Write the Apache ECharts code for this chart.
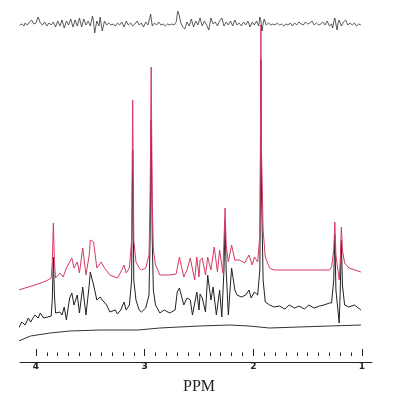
<!DOCTYPE html>
<html><head><meta charset="utf-8">
<script src="https://cdn.jsdelivr.net/npm/echarts@6/dist/echarts.min.js"></script>
<style>html,body{margin:0;padding:0;background:#fff}#c{width:393px;height:400px}</style>
</head><body><div id="c"></div>
<script>
// Axis ticks
var tickValues = [1, 2, 3, 4];
var axisName = 'PPM';

// Top trace: difference / noise spectrum [ppm, intensity]
var noiseTrace = [
[4.15,337],[4.13,338],[4.11,336],[4.10,339],[4.08,337],[4.06,340],[4.04,342],[4.02,338],[4.00,339],[3.98,345],
[3.96,339],[3.94,337],[3.92,340],[3.90,336],[3.88,339],[3.86,337],[3.84,340],[3.82,335],[3.80,341],[3.78,336],
[3.76,342],[3.74,334],[3.72,341],[3.70,337],[3.68,343],[3.66,335],[3.64,342],[3.62,336],[3.60,344],[3.58,335],
[3.56,343],[3.54,337],[3.52,341],[3.50,336],[3.48,346],[3.47,340],[3.46,329],[3.44,341],[3.42,336],[3.41,345],
[3.40,338],[3.39,331],[3.37,341],[3.35,337],[3.33,339],[3.31,337],[3.29,338],[3.27,336],[3.25,339],[3.23,337],
[3.21,340],[3.19,335],[3.17,341],[3.15,337],[3.13,339],[3.11,336],[3.09,338],[3.07,341],[3.05,337],[3.03,339],
[3.01,335],[2.99,340],[2.97,337],[2.955,343],[2.945,348],[2.93,336],[2.91,339],[2.89,337],[2.87,340],[2.85,337],
[2.83,338],[2.81,336],[2.79,338],[2.77,337],[2.75,338],[2.73,337],[2.71,340],[2.695,351],[2.68,346],[2.67,340],
[2.65,335],[2.63,333],[2.61,340],[2.59,336],[2.57,343],[2.55,335],[2.53,341],[2.51,337],[2.49,344],[2.47,336],
[2.45,341],[2.43,337],[2.41,332],[2.39,344],[2.37,338],[2.35,340],[2.33,336],[2.31,341],[2.29,344],[2.27,336],
[2.25,340],[2.23,337],[2.21,341],[2.19,336],[2.17,342],[2.15,337],[2.13,339],[2.11,336],[2.09,340],[2.07,337],
[2.05,341],[2.03,335],[2.01,340],[1.99,337],[1.97,341],[1.95,336],[1.94,345],[1.93,341],[1.92,331],[1.91,338],
[1.90,343],[1.88,337],[1.86,339],[1.84,337],[1.82,338],[1.80,337],[1.78,339],[1.76,337],[1.74,338],[1.72,336],
[1.70,338],[1.68,337],[1.66,339],[1.64,336],[1.62,339],[1.60,337],[1.58,340],[1.56,338],[1.54,337],[1.52,340],
[1.50,338],[1.48,339],[1.46,341],[1.44,337],[1.42,339],[1.40,337],[1.38,338],[1.36,340],[1.34,337],[1.32,341],
[1.30,336],[1.28,338],[1.27,334],[1.26,340],[1.25,344],[1.24,338],[1.23,332],[1.22,339],[1.21,342],[1.19,336],
[1.17,340],[1.15,342],[1.13,337],[1.11,339],[1.09,337],[1.07,339],[1.05,336],[1.03,338],[1.01,337]
];

// Red spectrum [ppm, intensity]
var redTrace = [
[4.16,72],[4.10,74],[4.01,77],[3.93,80],[3.89,82],[3.86,84],[3.85,100],[3.84,139],[3.83,100],[3.82,84],
[3.78,89],[3.75,85],[3.72,94],[3.69,100],[3.67,104],[3.65,94],[3.62,100],[3.60,89],[3.57,114],[3.54,87],
[3.51,107],[3.50,122],[3.47,120],[3.44,94],[3.40,100],[3.37,94],[3.32,87],[3.25,84],[3.22,90],[3.19,97],
[3.17,89],[3.14,94],[3.12,122],[3.11,262],[3.10,122],[3.08,100],[3.05,94],[3.03,92],[2.99,94],[2.96,107],
[2.95,162],[2.94,295],[2.93,162],[2.92,112],[2.90,97],[2.86,87],[2.77,87],[2.71,88],[2.68,105],[2.64,85],
[2.61,92],[2.58,104],[2.54,82],[2.52,105],[2.50,85],[2.49,102],[2.47,104],[2.44,87],[2.42,105],[2.39,92],
[2.36,115],[2.33,90],[2.31,112],[2.28,89],[2.27,122],[2.26,154],[2.25,117],[2.23,100],[2.20,117],[2.17,102],
[2.13,102],[2.08,99],[2.04,107],[2.01,97],[1.99,105],[1.96,100],[1.94,127],[1.935,212],[1.93,337],[1.925,212],
[1.91,132],[1.89,105],[1.85,94],[1.81,92],[1.58,92],[1.30,92],[1.28,95],[1.26,112],[1.25,140],[1.24,107],
[1.21,82],[1.20,102],[1.19,135],[1.18,112],[1.16,99],[1.12,94],[1.01,90]
];

// Black spectrum [ppm, intensity]
var blackTrace = [
[4.16,34],[4.13,40],[4.10,37],[4.07,44],[4.05,40],[4.01,47],[3.98,44],[3.96,49],[3.93,44],[3.89,45],
[3.86,46],[3.85,62],[3.84,105],[3.83,67],[3.82,49],[3.78,50],[3.76,47],[3.74,55],[3.72,42],[3.69,64],
[3.67,69],[3.65,57],[3.62,67],[3.60,49],[3.57,75],[3.54,47],[3.51,77],[3.50,90],[3.47,77],[3.44,62],
[3.41,65],[3.39,62],[3.35,57],[3.32,50],[3.27,52],[3.25,48],[3.22,52],[3.19,60],[3.17,52],[3.14,57],
[3.12,82],[3.11,212],[3.10,82],[3.08,62],[3.05,52],[3.03,50],[2.99,54],[2.96,67],[2.95,122],[2.94,242],
[2.93,122],[2.92,72],[2.90,57],[2.86,49],[2.82,52],[2.77,49],[2.72,52],[2.70,70],[2.68,74],[2.64,57],
[2.61,64],[2.58,62],[2.56,47],[2.52,70],[2.50,52],[2.49,68],[2.47,64],[2.44,50],[2.42,87],[2.39,62],
[2.37,75],[2.34,47],[2.31,72],[2.29,45],[2.27,92],[2.26,140],[2.25,92],[2.23,47],[2.20,94],[2.17,72],
[2.15,67],[2.11,65],[2.07,67],[2.04,72],[2.02,64],[1.99,70],[1.96,67],[1.94,92],[1.935,172],[1.93,302],
[1.925,172],[1.91,82],[1.89,60],[1.85,57],[1.81,55],[1.76,56],[1.71,53],[1.67,57],[1.62,54],[1.58,56],
[1.53,53],[1.49,57],[1.44,54],[1.39,56],[1.35,57],[1.30,59],[1.28,59],[1.26,82],[1.25,127],[1.24,72],
[1.21,39],[1.20,72],[1.19,122],[1.18,77],[1.16,57],[1.12,55],[1.07,57],[1.01,52]
];

// Bottom baseline trace [ppm, intensity]
var baseTrace = [
[4.16,21],[4.05,26],[3.87,29],[3.69,31],[3.41,32],[3.06,32],[2.86,34],[2.50,36],[2.22,37],[2.04,36],
[1.85,34],[1.58,35],[1.30,36],[1.01,37]
];

var chart = echarts.init(document.getElementById('c'), null, {renderer: 'canvas'});
function line(data, color, width, z) {
  return {type: 'line', data: data, xAxisIndex: 0, yAxisIndex: 0, showSymbol: false, symbol: 'none',
    lineStyle: {color: color, width: width}, z: z, animation: false, silent: true};
}
chart.setOption({
  animation: false,
  backgroundColor: '#fff',
  grid: [
    {left: 20, right: 21, top: 0, bottom: 38},
    {left: 36, right: 31, top: 0, bottom: 38}
  ],
  xAxis: [
    {type: 'value', gridIndex: 0, inverse: true, min: 0.908, max: 4.147,
     axisLine: {show: true, lineStyle: {color: '#222', width: 1}},
     axisTick: {show: false}, axisLabel: {show: false}, splitLine: {show: false}},
    {type: 'value', gridIndex: 1, inverse: true, min: tickValues[0], max: tickValues[tickValues.length - 1], interval: 1,
     axisLine: {show: false},
     axisTick: {show: true, inside: true, length: 7, lineStyle: {color: '#222', width: 1}},
     minorTick: {show: true, splitNumber: 10, length: 3.5, lineStyle: {color: '#222', width: 1}},
     axisLabel: {show: true, margin: 6, color: '#222', fontSize: 9, fontWeight: 'bold', fontFamily: 'DejaVu Sans'},
     splitLine: {show: false}, minorSplitLine: {show: false},
     name: axisName, nameLocation: 'middle', nameGap: 23,
     nameTextStyle: {fontFamily: 'Liberation Serif', fontSize: 16, color: '#222'}}
  ],
  yAxis: [
    {type: 'value', gridIndex: 0, min: 0, max: 362, show: false},
    {type: 'value', gridIndex: 1, min: 0, max: 362, show: false}
  ],
  series: [
    line(baseTrace, '#333', 1, 2),
    line(blackTrace, '#222', 1, 3),
    line(redTrace, '#d63a62', 1, 4),
    line(noiseTrace, '#333', 0.8, 5)
  ]
});
</script></body></html>
